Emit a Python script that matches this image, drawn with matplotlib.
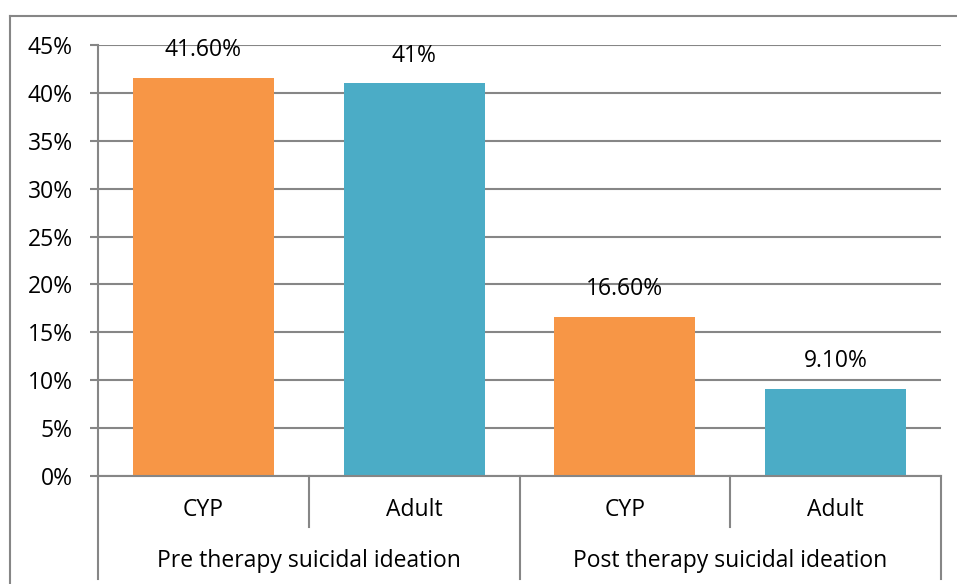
import matplotlib.pyplot as plt
from matplotlib.lines import Line2D
import numpy as np

groups = ["Pre therapy suicidal ideation", "Post therapy suicidal ideation"]
subcats = ["CYP", "Adult", "CYP", "Adult"]
values = [41.6, 41.0, 16.6, 9.1]
value_labels = ["41.60%", "41%", "16.60%", "9.10%"]
colors = ["#F79646", "#4BACC6", "#F79646", "#4BACC6"]
yticks = [0, 5, 10, 15, 20, 25, 30, 35, 40, 45]

plt.rcParams['font.family'] = ['Open Sans', 'DejaVu Sans']
grid_c = "#868686"
fs = 16.5

fig = plt.figure(figsize=(9.57, 5.84), dpi=100)
ax = fig.add_axes([98/957, 108/584, 843/957, 431/584])

x = np.arange(len(values))
ax.bar(x, values, width=0.67, color=colors, zorder=3)
ax.set_xlim(-0.5, len(values) - 0.5)
ax.set_ylim(0, 45)
ax.set_yticks(yticks)
ax.set_yticklabels([f"{t}%" for t in yticks], fontsize=fs)
ax.yaxis.grid(True, color=grid_c, linewidth=1.5, zorder=0)
ax.tick_params(axis='y', length=6, width=1.5, color=grid_c, pad=12)
ax.set_xticks([])
for s in ["top", "right", "bottom"]:
    ax.spines[s].set_visible(False)
ax.spines["left"].set_color(grid_c)
ax.spines["left"].set_linewidth(1.5)

for xi, v, lab in zip(x, values, value_labels):
    ax.annotate(lab, (xi, v), xytext=(0, 20), textcoords="offset points",
                ha="center", va="center", fontsize=fs)

tr = ax.get_xaxis_transform()
# category axis lines
ax.plot([-0.5, 3.5], [0, 0], color=grid_c, lw=1.5, transform=tr, clip_on=False, zorder=4)
ax.plot([-0.5, -0.5], [0, -0.239], color=grid_c, lw=1.5, transform=tr, clip_on=False)
for b in [0.5, 2.5]:
    ax.plot([b, b], [0, -0.118], color=grid_c, lw=1.5, transform=tr, clip_on=False)
for b in [1.5, 3.5]:
    ax.plot([b, b], [0, -0.239], color=grid_c, lw=1.5, transform=tr, clip_on=False)

for xi, lab in zip(x, subcats):
    ax.text(xi, -0.079, lab, transform=tr, ha="center", va="center", fontsize=fs)
for gi, g in enumerate(groups):
    ax.text(gi * 2 + 0.5, -0.198, g, transform=tr, ha="center", va="center", fontsize=fs)

# outer chart border (left and top)
fig.add_artist(Line2D([10/957, 10/957], [0, 1 - 16/584], color=grid_c, lw=1.5))
fig.add_artist(Line2D([10/957, 1], [1 - 16/584, 1 - 16/584], color=grid_c, lw=1.5))

fig.savefig("out.png", dpi=100)
